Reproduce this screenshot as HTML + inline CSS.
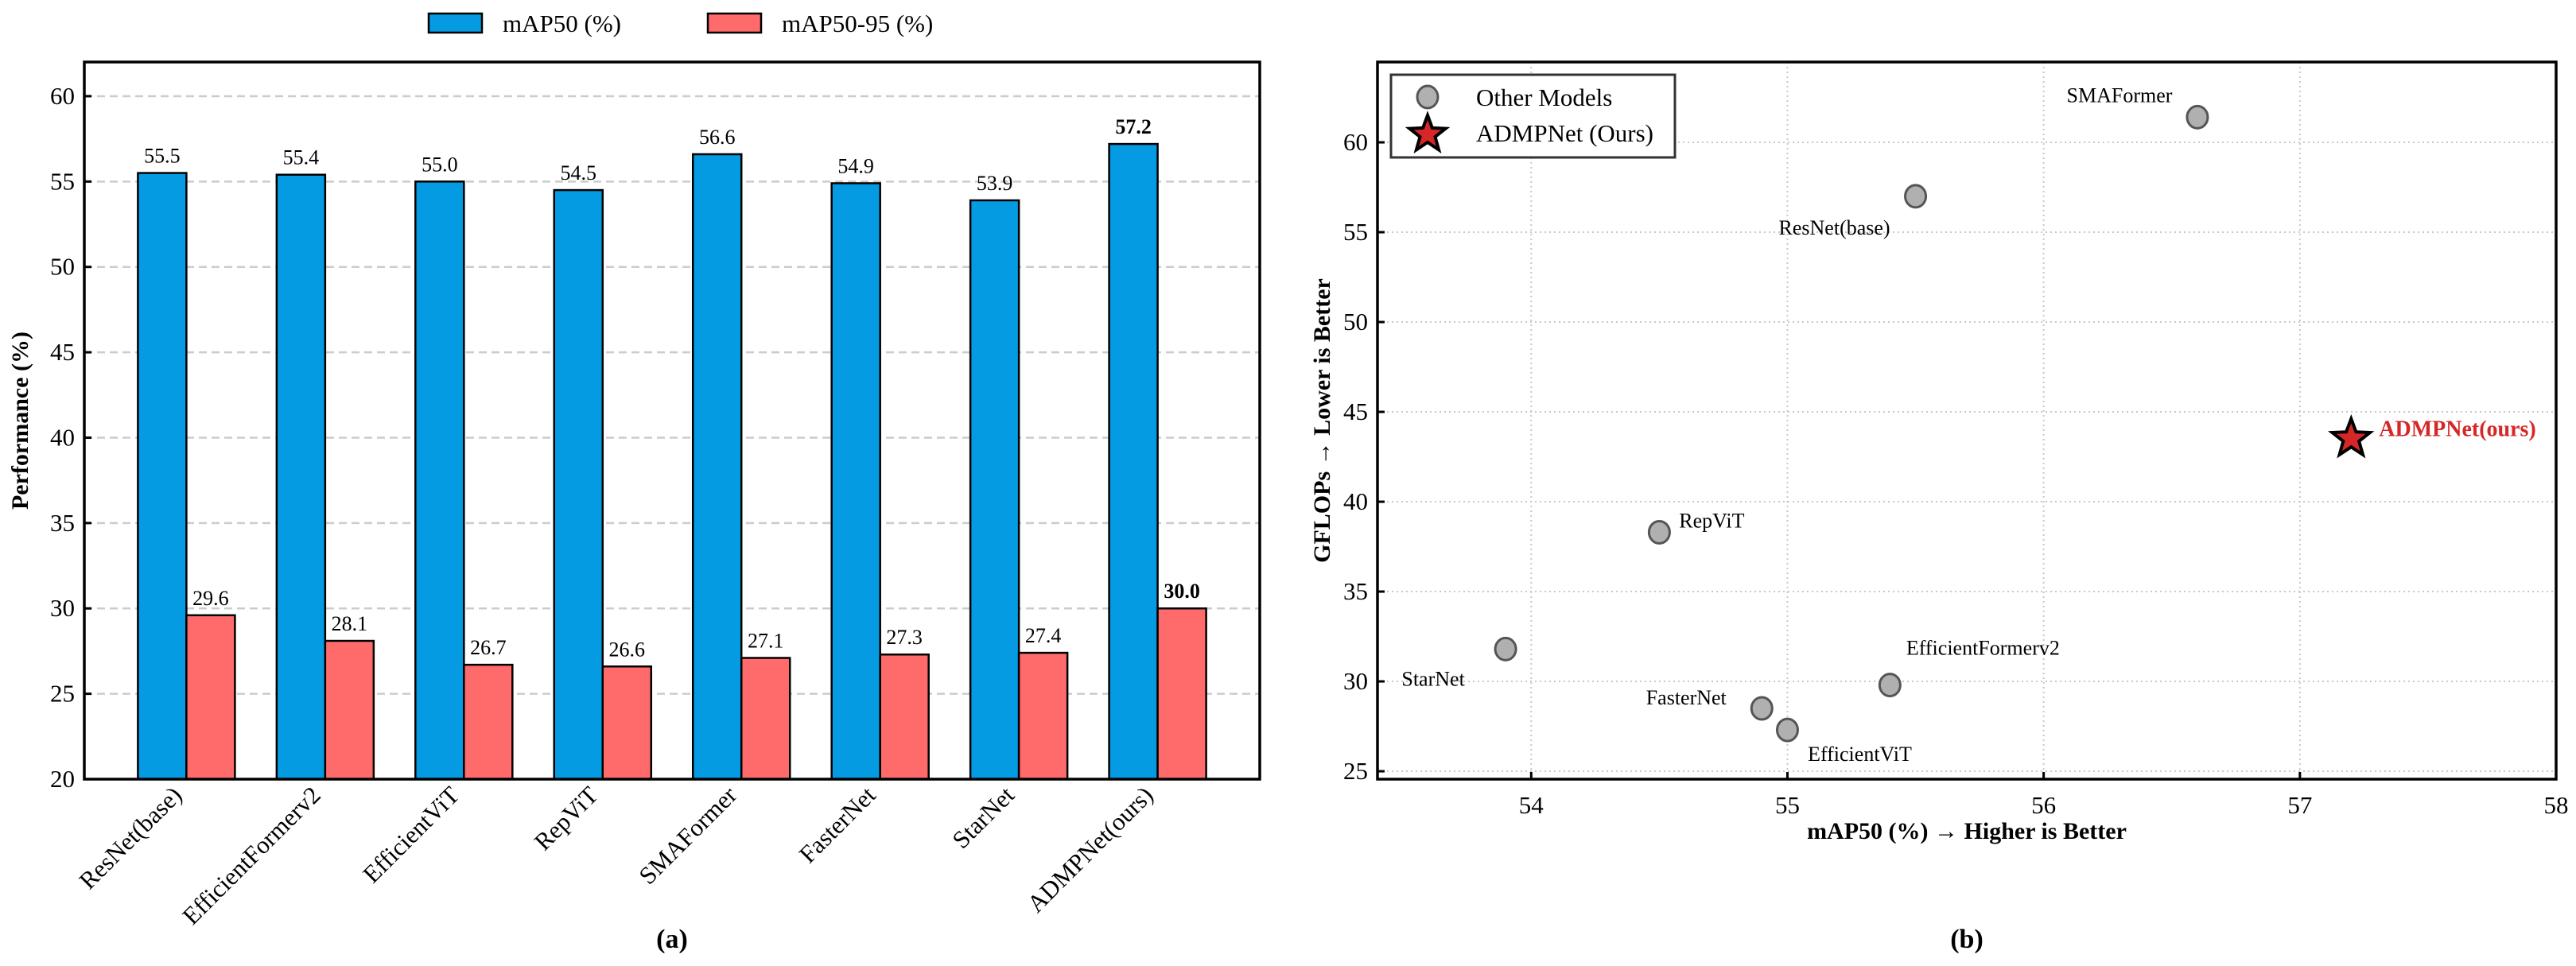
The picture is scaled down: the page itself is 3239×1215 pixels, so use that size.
<!DOCTYPE html>
<html><head><meta charset="utf-8"><style>
html,body{margin:0;padding:0;background:#fff;}
svg{display:block;font-family:"Liberation Serif",serif;}
</style></head><body>
<svg id="fig" width="3239" height="1215" viewBox="0 0 3239 1215" xmlns="http://www.w3.org/2000/svg">
<g id="left"></g>
<g id="right"></g>
</svg>
<script>
const categories = ["ResNet(base)","EfficientFormerv2","EfficientViT","RepViT","SMAFormer","FasterNet","StarNet","ADMPNet(ours)"];
const map50 = [55.5,55.4,55.0,54.5,56.6,54.9,53.9,57.2];
const map5095 = [29.6,28.1,26.7,26.6,27.1,27.3,27.4,30.0];
const leftYTicks = [20,25,30,35,40,45,50,55,60];

const scatterNames = ["StarNet","RepViT","FasterNet","EfficientViT","EfficientFormerv2","ResNet(base)","SMAFormer"];
const scatterX = [53.9,54.5,54.9,55.0,55.4,55.5,56.6];
const scatterY = [31.8,38.3,28.5,27.3,29.8,57.0,61.4];
const oursX = [57.2];
const oursY = [43.6];
const rightXTicks = [54,55,56,57,58];
const rightYTicks = [25,30,35,40,45,50,55,60];

const NS="http://www.w3.org/2000/svg";
function mk(parent,tag,attrs,text){const e=document.createElementNS(NS,tag);for(const k in attrs)e.setAttribute(k,attrs[k]);if(text!==undefined)e.textContent=text;parent.appendChild(e);return e;}

// ---------- Left bar chart ----------
const L=document.getElementById('left');
const lx0=106,lx1=1584,ly0=78,ly1=980,lymin=20,lymax=62;
const ly=v=>ly1-(v-lymin)/(lymax-lymin)*(ly1-ly0);
const gStep=(lx1-lx0)/(categories.length-1+2*0.736);
const gx=i=>lx0+gStep*0.736+i*gStep;
const bw=61;
leftYTicks.forEach(t=>{
  const y=ly(t);
  if(t>lymin){const gl=mk(L,'line',{x1:lx0,x2:lx1,y1:y,y2:y,stroke:'#cccccc','stroke-width':2.5,'stroke-dasharray':'10,6'});
  
  }
  const tk=mk(L,'line',{x1:lx0,x2:lx0+9,y1:y,y2:y,stroke:'#000','stroke-width':3});
  
  
  const tl=mk(L,'text',{x:lx0-12,y:y+10,'text-anchor':'end','font-size':31},String(t));
  
  
});
categories.forEach((c,i)=>{
  const cx=gx(i);
  const b1=mk(L,'rect',{x:cx-bw,y:ly(map50[i]),width:bw,height:ly1-ly(map50[i]),fill:'#049be3',stroke:'#000','stroke-width':2.5});
  
  
  const b2=mk(L,'rect',{x:cx,y:ly(map5095[i]),width:bw,height:ly1-ly(map5095[i]),fill:'#ff6b6b',stroke:'#000','stroke-width':2.5});
  
  
  const bold=i===categories.length-1?'bold':'normal';
  const v1=mk(L,'text',{x:cx-bw/2,y:ly(map50[i])-13,'text-anchor':'middle','font-size':26,'font-weight':bold},map50[i].toFixed(1));
  
  
  const v2=mk(L,'text',{x:cx+bw/2,y:ly(map5095[i])-13,'text-anchor':'middle','font-size':26,'font-weight':bold},map5095[i].toFixed(1));
  
  
  const xl=mk(L,'text',{x:cx-4,y:ly1+22,'text-anchor':'end','font-size':31,transform:`rotate(-45 ${cx-4} ${ly1+22})`},c);
  
  
});
const lframe=mk(L,'rect',{x:lx0,y:ly0,width:lx1-lx0,height:ly1-ly0,fill:'none',stroke:'#000','stroke-width':3.5});


const lyt=mk(L,'text',{x:35,y:(ly0+ly1)/2,'text-anchor':'middle','font-size':30,'font-weight':'bold',transform:`rotate(-90 35 ${(ly0+ly1)/2})`},'Performance (%)');


const la=mk(L,'text',{x:(lx0+lx1)/2,y:1192,'text-anchor':'middle','font-size':34,'font-weight':'bold'},'(a)');


// top legend
const lg1=mk(L,'rect',{x:539,y:17,width:67,height:24,fill:'#049be3',stroke:'#000','stroke-width':2.5});


const lt1=mk(L,'text',{x:632,y:40,'font-size':31},'mAP50 (%)');


const lg2=mk(L,'rect',{x:890,y:17,width:67,height:24,fill:'#ff6b6b',stroke:'#000','stroke-width':2.5});


const lt2=mk(L,'text',{x:983,y:40,'font-size':31},'mAP50-95 (%)');



// ---------- Right scatter ----------
const R=document.getElementById('right');
const rx0=1732,rx1=3214,ry0=78,ry1=980;
const xmin=53.4,xmax=58,ymin=24.56,ymax=64.47;
const sx=v=>rx0+(v-xmin)/(xmax-xmin)*(rx1-rx0);
const sy=v=>ry1-(v-ymin)/(ymax-ymin)*(ry1-ry0);
rightYTicks.forEach(t=>{
  const y=sy(t);
  const gl=mk(R,'line',{x1:rx0,x2:rx1,y1:y,y2:y,stroke:'#c8c8c8','stroke-width':2,'stroke-dasharray':'2,4'});
  
  
  const tk=mk(R,'line',{x1:rx0,x2:rx0+9,y1:y,y2:y,stroke:'#000','stroke-width':3});
  
  
  const tl=mk(R,'text',{x:rx0-12,y:y+10,'text-anchor':'end','font-size':31},String(t));
  
  
});
rightXTicks.forEach(t=>{
  const x=sx(t);
  const gl=mk(R,'line',{x1:x,x2:x,y1:ry0,y2:ry1,stroke:'#c8c8c8','stroke-width':2,'stroke-dasharray':'2,4'});
  
  
  const tk=mk(R,'line',{x1:x,x2:x,y1:ry1,y2:ry1-9,stroke:'#000','stroke-width':3});
  
  
  const tl=mk(R,'text',{x:x,y:ry1+43,'text-anchor':'middle','font-size':31},String(t));
  
  
});
const labelOffsets={"StarNet":[-91,46,'middle'],"RepViT":[66,-6,'middle'],"FasterNet":[-95,-5,'middle'],"EfficientViT":[91,39,'middle'],"EfficientFormerv2":[117,-38,'middle'],"ResNet(base)":[-102,48,'middle'],"SMAFormer":[-98,-19,'middle']};
scatterNames.forEach((n,i)=>{
  const x=sx(scatterX[i]),y=sy(scatterY[i]);
  const c=mk(R,'ellipse',{cx:x,cy:y,rx:13,ry:14,fill:'#b0b0b0',stroke:'#555','stroke-width':3});
  
  
  const o=labelOffsets[n]||[0,-20,'middle'];
  const t=mk(R,'text',{x:x+o[0],y:y+o[1],'text-anchor':o[2],'font-size':26},n);
  
  
});
function starPath(cx,cy,ro,ri){let d='';for(let k=0;k<10;k++){const r=k%2?ri:ro;const a=-Math.PI/2+k*Math.PI/5;d+=(k?'L':'M')+(cx+r*Math.cos(a)).toFixed(1)+','+(cy+r*Math.sin(a)).toFixed(1);}return d+'Z';}
oursX.forEach((v,i)=>{
  const x=sx(v),y=sy(oursY[i]);
  const s=mk(R,'path',{d:starPath(x,y+2,25,10.5),fill:'#d62728',stroke:'#000','stroke-width':4,'stroke-linejoin':'miter'});
  
  
  const t=mk(R,'text',{x:x+35,y:y-1,'font-size':28,'font-weight':'bold',fill:'#d62728'},'ADMPNet(ours)');
  
  
});
const rframe=mk(R,'rect',{x:rx0,y:ry0,width:rx1-rx0,height:ry1-ry0,fill:'none',stroke:'#000','stroke-width':3.5});


const rxt=mk(R,'text',{x:(rx0+rx1)/2,y:1055,'text-anchor':'middle','font-size':30,'font-weight':'bold'},'mAP50 (%) \u2192 Higher is Better');


const ryt=mk(R,'text',{x:1672,y:(ry0+ry1)/2,'text-anchor':'middle','font-size':30,'font-weight':'bold',transform:`rotate(-90 1672 ${(ry0+ry1)/2})`},'GFLOPs \u2192 Lower is Better');


const rb=mk(R,'text',{x:(rx0+rx1)/2,y:1192,'text-anchor':'middle','font-size':34,'font-weight':'bold'},'(b)');


// legend
const lb=mk(R,'rect',{x:1749,y:94,width:357,height:104,fill:'#fff',stroke:'#333','stroke-width':3});


const lc=mk(R,'ellipse',{cx:1795,cy:122,rx:13,ry:14,fill:'#b0b0b0',stroke:'#555','stroke-width':3});


const ltx1=mk(R,'text',{x:1856,y:133,'font-size':31},'Other Models');


const ls=mk(R,'path',{d:starPath(1795,169,24,10),fill:'#d62728',stroke:'#000','stroke-width':4});


const ltx2=mk(R,'text',{x:1856,y:178,'font-size':31},'ADMPNet (Ours)');


</script>
</body></html>
